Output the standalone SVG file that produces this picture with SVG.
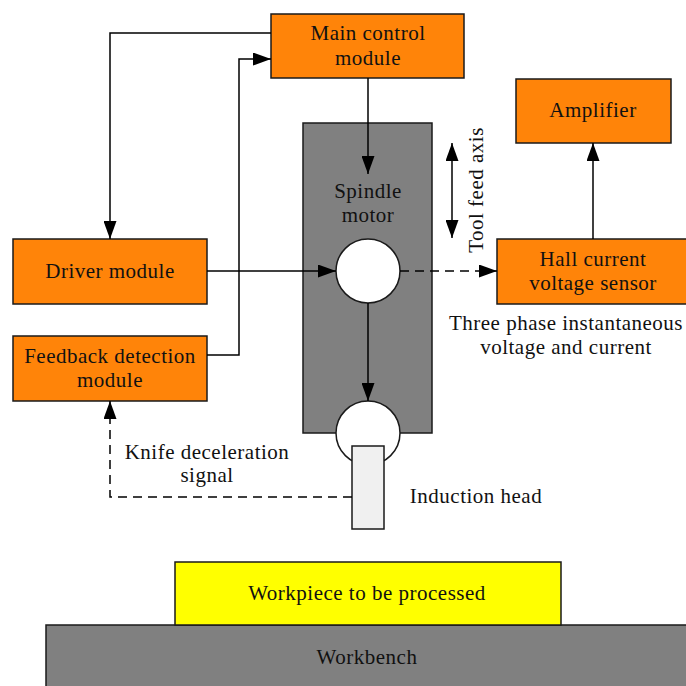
<svg xmlns="http://www.w3.org/2000/svg" width="686" height="686" viewBox="0 0 686 686">
  <style>
    .box { fill: #FF8409; stroke: #1a1a1a; stroke-width: 1.5; }
    .gray { fill: #808080; stroke: #1a1a1a; stroke-width: 1.5; }
    .wheel { fill: #ffffff; stroke: #1a1a1a; stroke-width: 1.5; }
    .txt { font-family: "Liberation Serif", "Times New Roman", serif; font-size: 21px; letter-spacing: 0.5px; fill: #111; text-anchor: middle; }
    .line { fill: none; stroke: #000; stroke-width: 1.5; }
    .dash { stroke-dasharray: 9 6; }
  </style>
  <defs>
    <marker id="arrow" markerUnits="userSpaceOnUse" markerWidth="18" markerHeight="13" refX="18" refY="6.5" orient="auto-start-reverse">
      <path d="M0,0 L18,6.5 L0,13 z" fill="#000"/>
    </marker>
  </defs>

  <rect width="686" height="686" fill="#ffffff"/>

  <!-- machine base -->
  <g id="workbench">
    <rect class="gray" x="46" y="625" width="645" height="65"/>
    <text class="txt" x="367" y="664">Workbench</text>
  </g>
  <g id="workpiece">
    <rect x="175" y="562" width="386" height="63" fill="#FFFF00" stroke="#1a1a1a" stroke-width="1.5"/>
    <text class="txt" x="367" y="600">Workpiece to be processed</text>
  </g>

  <!-- spindle assembly -->
  <g id="spindle-motor">
    <rect class="gray" x="303" y="123" width="129" height="310"/>
    <text class="txt" x="368" y="198">Spindle</text>
    <text class="txt" x="368" y="222">motor</text>
  </g>
  <g id="rotor">
    <circle class="wheel" cx="368" cy="271" r="32"/>
  </g>
  <g id="spindle-nose">
    <circle class="wheel" cx="368" cy="433" r="32"/>
  </g>
  <g id="induction-head">
    <rect x="352" y="446" width="32" height="83" fill="#f0f0f0" stroke="#1a1a1a" stroke-width="1.5"/>
    <text class="txt" x="476" y="503">Induction head</text>
  </g>

  <!-- control modules -->
  <g id="main-control">
    <rect class="box" x="271" y="14" width="193" height="64"/>
    <text class="txt" x="368" y="40">Main control</text>
    <text class="txt" x="368" y="65">module</text>
  </g>
  <g id="driver">
    <rect class="box" x="13" y="239" width="194" height="65"/>
    <text class="txt" x="110" y="278">Driver module</text>
  </g>
  <g id="feedback">
    <rect class="box" x="13" y="336" width="194" height="65"/>
    <text class="txt" x="110" y="363">Feedback detection</text>
    <text class="txt" x="110" y="387">module</text>
  </g>
  <g id="hall-sensor">
    <rect class="box" x="497" y="239" width="192" height="65"/>
    <text class="txt" x="593" y="266">Hall current</text>
    <text class="txt" x="593" y="290">voltage sensor</text>
  </g>
  <g id="amplifier">
    <rect class="box" x="516" y="79" width="155" height="64"/>
    <text class="txt" x="593" y="117">Amplifier</text>
  </g>

  <!-- free labels -->
  <g id="labels">
    <text class="txt" x="566" y="330">Three phase instantaneous</text>
    <text class="txt" x="566" y="354">voltage and current</text>
    <text class="txt" x="207" y="459">Knife deceleration</text>
    <text class="txt" x="207" y="482">signal</text>
    <text class="txt" transform="translate(483 190) rotate(-90)">Tool feed axis</text>
  </g>

  <!-- connectors -->
  <g id="connectors">
    <path class="line" d="M271,33 H110 V239" marker-end="url(#arrow)"/>
    <path class="line" d="M207,355 H239 V59 H271" marker-end="url(#arrow)"/>
    <path class="line" d="M368,78 V174" marker-end="url(#arrow)"/>
    <path class="line" d="M207,271 H336" marker-end="url(#arrow)"/>
    <path class="line" d="M368,303 V401" marker-end="url(#arrow)"/>
    <path class="line dash" d="M400,271 H497" marker-end="url(#arrow)"/>
    <path class="line" d="M593,239 V143" marker-end="url(#arrow)"/>
    <path class="line dash" d="M352,497 H110 V401" marker-end="url(#arrow)"/>
    <path class="line" d="M452,143 V238" marker-start="url(#arrow)" marker-end="url(#arrow)"/>
  </g>
</svg>
